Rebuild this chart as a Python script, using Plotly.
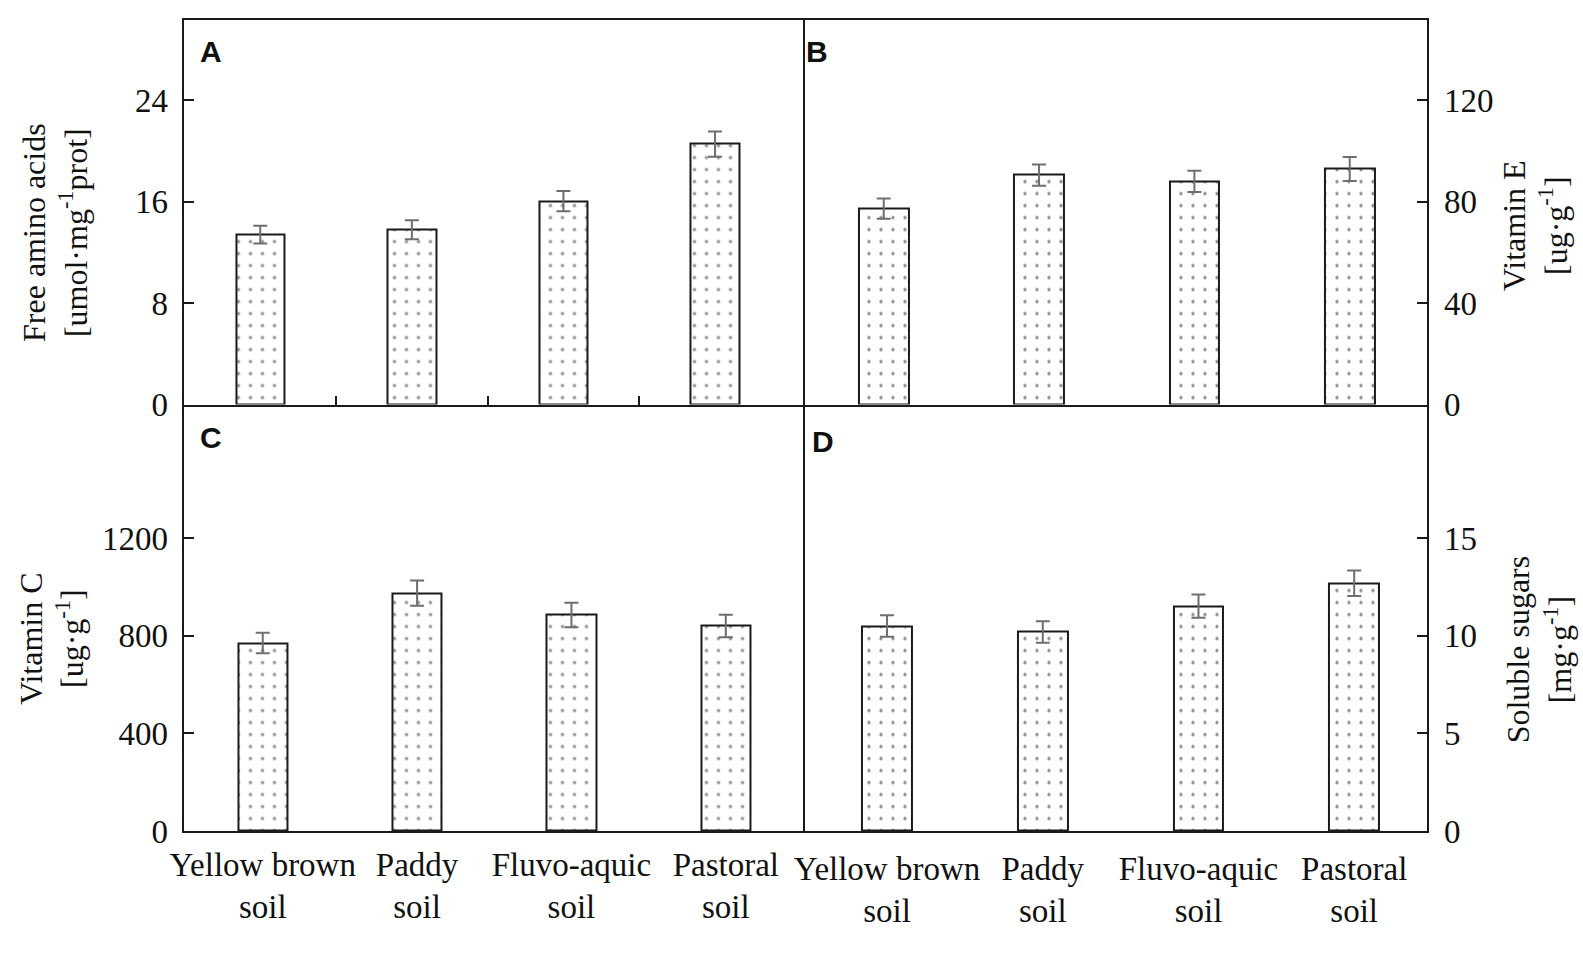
import plotly.graph_objects as go

# Datos
soils = ['Yellow brown<br>soil', 'Paddy<br>soil', 'Fluvo-aquic<br>soil', 'Pastoral<br>soil']

amino = [13.4, 13.8, 16.05, 20.55]
amino_err = [0.7, 0.75, 0.8, 1.0]

vit_e = [77.3, 90.5, 88.0, 92.9]
vit_e_err = [4.0, 4.2, 4.2, 4.7]

vit_c = [770, 975, 885, 840]
vit_c_err = [42, 52, 50, 46]

sugars = [10.5, 10.2, 11.52, 12.69]
sugars_err = [0.55, 0.55, 0.6, 0.65]

pos = list(range(len(soils)))

W, H = 1583, 962
# bordes de los paneles en pixeles
x0, xm, x1 = 172, 796, 1426
y0, ym, y1 = 20, 412.7, 847.7

serif = 'Liberation Serif'
line_col = '#1a1a1a'

fig = go.Figure()


def add_bars(vals, errs, xa, ya):
    fig.add_trace(go.Bar(
        x=pos, y=vals, width=0.32, xaxis=xa, yaxis=ya,
        marker=dict(color='white', line=dict(color=line_col, width=2),
                    pattern=dict(shape='.', size=12, solidity=0.06,
                                 fgcolor='#111', bgcolor='white')),
        error_y=dict(type='data', array=errs, color='#6e6e6e',
                     thickness=2, width=7),
        showlegend=False,
    ))


add_bars(amino, amino_err, 'x', 'y')
add_bars(vit_e, vit_e_err, 'x2', 'y2')
add_bars(vit_c, vit_c_err, 'x3', 'y3')
add_bars(sugars, sugars_err, 'x4', 'y4')

px = lambda v: v / W
py = lambda v: 1 - v / H

axis_common = dict(showline=True, linecolor=line_col, linewidth=2,
                   showgrid=False, zeroline=False,
                   tickfont=dict(family=serif, size=33, color='#111'))
ytick = dict(axis_common, ticks='inside', ticklen=10, tickwidth=2, tickcolor=line_col,
             ticklabelstandoff=8)

fig.update_layout(
    width=W, height=H,
    margin=dict(l=0, r=0, t=0, b=0),
    paper_bgcolor='white', plot_bgcolor='white',
    bargap=0,
    xaxis=dict(axis_common, domain=[px(x0), px(xm)], range=[-0.5, 3.58], mirror=True,
               tickvals=[0.5, 1.5, 2.5], ticks='inside', ticklen=9, tickwidth=2,
               tickcolor=line_col, showticklabels=False, anchor='y'),
    yaxis=dict(ytick, domain=[py(ym), py(y0)], range=[0, 30.37],
               tickvals=[0, 8, 16, 24], mirror=True, anchor='x'),
    xaxis2=dict(axis_common, domain=[px(xm), px(x1)], range=[-0.52, 3.5], mirror=True,
                ticks='', showticklabels=False, anchor='y2'),
    yaxis2=dict(ytick, domain=[py(ym), py(y0)], range=[0, 151.8],
                tickvals=[0, 40, 80, 120], side='right', mirror=False, anchor='x2'),
    xaxis3=dict(axis_common, domain=[px(x0), px(xm)], range=[-0.507, 3.5], mirror=False,
                tickvals=pos, ticktext=soils, ticks='', ticklabelstandoff=3,
                anchor='y3'),
    yaxis3=dict(ytick, domain=[py(y1), py(ym)], range=[0, 1747.7],
                tickvals=[0, 400, 800, 1200], mirror=True, anchor='x3'),
    xaxis4=dict(axis_common, domain=[px(xm), px(x1)], range=[-0.54, 3.47], mirror=False,
                tickvals=pos, ticktext=soils, ticks='', ticklabelstandoff=7,
                anchor='y4'),
    yaxis4=dict(ytick, domain=[py(y1), py(ym)], range=[0, 21.85],
                tickvals=[0, 5, 10, 15], side='right', mirror=False, anchor='x4'),
)

# letras de los paneles
for letter, lx, ly in [('A', 186, 53), ('B', 797, 53), ('C', 186, 446), ('D', 803, 450)]:
    fig.add_annotation(text='<b>%s</b>' % letter, x=px(lx), y=py(ly), xref='paper', yref='paper',
                       xanchor='left', yanchor='middle', showarrow=False,
                       font=dict(family='Liberation Sans', size=30, color='#111'))

# titulos de los ejes
titles = [
    ('Free amino acids<br>[umol·mg<sup>-1</sup>prot]', 42, 237),
    ('Vitamin E<br>[ug·g<sup>-1</sup>]', 1535, 230),
    ('Vitamin C<br>[ug·g<sup>-1</sup>]', 38, 652),
    ('Soluble sugars<br>[mg·g<sup>-1</sup>]', 1539, 662),
]
for txt, tx, ty in titles:
    fig.add_annotation(text=txt, x=px(tx), y=py(ty), xref='paper', yref='paper',
                       xanchor='center', yanchor='middle', textangle=-90, showarrow=False,
                       font=dict(family=serif, size=32, color='#111'))

fig.write_html('out.html', config={'displayModeBar': False},
               post_script="document.body.style.margin='0';"
                           "document.body.style.overflow='hidden';")
